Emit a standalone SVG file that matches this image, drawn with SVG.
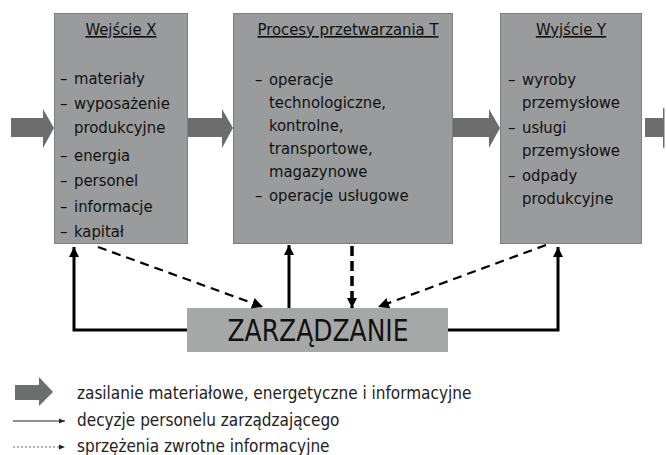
<svg xmlns="http://www.w3.org/2000/svg" width="666" height="455" viewBox="0 0 666 455">
<defs>
<style>
.box{fill:#999b9c;stroke:#7d7f80;stroke-width:1}
.mgmt{fill:#a6a8a8}
.flow{fill:#6c6e6e}
.t{font-family:"DejaVu Sans Condensed","DejaVu Sans",sans-serif;font-size:16.5px;fill:#111}
.title{text-anchor:middle;text-decoration:underline}
.big{font-family:"DejaVu Sans Condensed","DejaVu Sans",sans-serif;font-size:30px;fill:#111;text-anchor:middle}
.leg{font-family:"DejaVu Sans Condensed","DejaVu Sans",sans-serif;font-size:17px;fill:#222}
.solid{fill:none;stroke:#000;stroke-width:3}
.dash{fill:none;stroke:#000;stroke-width:2.2;stroke-dasharray:9 6}
.dashv{fill:none;stroke:#000;stroke-width:3.5;stroke-dasharray:10 5}
</style>
<marker id="ah" viewBox="0 0 10 10" refX="10" refY="5" markerWidth="3.4" markerHeight="3.6" markerUnits="strokeWidth" orient="auto">
<path d="M0,0 L10,5 L0,10 z" fill="#000"/>
</marker>
<marker id="ahd" viewBox="0 0 10 10" refX="10" refY="5" markerWidth="5" markerHeight="5" markerUnits="strokeWidth" orient="auto">
<path d="M0,0 L10,5 L0,10 z" fill="#000"/>
</marker>
<marker id="ahv" viewBox="0 0 10 10" refX="10" refY="5" markerWidth="3" markerHeight="3" markerUnits="strokeWidth" orient="auto">
<path d="M0,0 L10,5 L0,10 z" fill="#000"/>
</marker>
<marker id="ahs" viewBox="0 0 10 10" refX="10" refY="5" markerWidth="6" markerHeight="6" markerUnits="userSpaceOnUse" orient="auto">
<path d="M0,1 L10,5 L0,9 z" fill="#222"/>
</marker>
</defs>
<rect width="666" height="455" fill="#fff"/>

<g id="flows">
<polygon class="flow" points="11,118 43,118 43,109 54,128 43,148 43,137 11,137"/>
<polygon class="flow" points="187,118 222,118 222,109 233,128 222,148 222,137 187,137"/>
<polygon class="flow" points="453,118 489,118 489,109 500,128 489,148 489,137 453,137"/>
<polygon class="flow" points="645,118 663,118 663,108 664.5,108.5 664.5,147.5 663,148 663,137 645,137"/>
</g>

<g id="node-wejscie">
<rect class="box" x="54.5" y="13.5" width="133" height="230"/>
<text class="t title" x="121" y="35">Wejście X</text>
<text class="t" x="60" y="84">–</text><text class="t" x="74" y="84">materiały</text>
<text class="t" x="60" y="109">–</text><text class="t" x="74" y="109">wyposażenie</text>
<text class="t" x="74" y="133">produkcyjne</text>
<text class="t" x="60" y="161">–</text><text class="t" x="74" y="161">energia</text>
<text class="t" x="60" y="186">–</text><text class="t" x="74" y="186">personel</text>
<text class="t" x="60" y="212">–</text><text class="t" x="74" y="212">informacje</text>
<text class="t" x="60" y="237">–</text><text class="t" x="74" y="237">kapitał</text>
</g>

<g id="node-procesy">
<rect class="box" x="233.5" y="13.5" width="219" height="230"/>
<text class="t title" x="348" y="35">Procesy przetwarzania T</text>
<text class="t" x="255" y="85">–</text><text class="t" x="269" y="85">operacje</text>
<text class="t" x="269" y="108">technologiczne,</text>
<text class="t" x="269" y="131">kontrolne,</text>
<text class="t" x="269" y="154">transportowe,</text>
<text class="t" x="269" y="177">magazynowe</text>
<text class="t" x="255" y="201">–</text><text class="t" x="269" y="201">operacje usługowe</text>
</g>

<g id="node-wyjscie">
<rect class="box" x="500.5" y="13.5" width="141" height="230"/>
<text class="t title" x="571" y="35">Wyjście Y</text>
<text class="t" x="508" y="85">–</text><text class="t" x="522" y="85">wyroby</text>
<text class="t" x="522" y="108">przemysłowe</text>
<text class="t" x="508" y="133">–</text><text class="t" x="522" y="133">usługi</text>
<text class="t" x="522" y="156">przemysłowe</text>
<text class="t" x="508" y="181">–</text><text class="t" x="522" y="181">odpady</text>
<text class="t" x="522" y="204">produkcyjne</text>
</g>

<g id="node-zarzadzanie">
<rect class="mgmt" x="187" y="308" width="261" height="44"/>
<text class="big" x="318" y="341" textLength="181" lengthAdjust="spacingAndGlyphs">ZARZĄDZANIE</text>
</g>

<g id="connectors">
<path class="solid" d="M187,330 H74 V247" marker-end="url(#ah)"/>
<path class="solid" d="M448,330 H558 V247" marker-end="url(#ah)"/>
<path class="solid" d="M289,308 V245" marker-end="url(#ah)"/>
<path class="dash" d="M98,247 L263,307" marker-end="url(#ahd)"/>
<path class="dash" d="M546,245 L378,307" marker-end="url(#ahd)"/>
<path class="dashv" d="M352,246 V308" marker-end="url(#ahv)"/>
</g>

<g id="legend">
<polygon class="flow" points="15,385 39,385 39,377 53,392 39,406 39,400 15,400"/>
<text class="leg" x="77" y="399">zasilanie materiałowe, energetyczne i informacyjne</text>
<line x1="13" y1="421" x2="65" y2="421" stroke="#222" stroke-width="1.2" marker-end="url(#ahs)"/>
<text class="leg" x="77" y="426">decyzje personelu zarządzającego</text>
<line x1="13" y1="447" x2="65" y2="447" stroke="#666" stroke-width="1" stroke-dasharray="2 2" marker-end="url(#ahs)"/>
<text class="leg" x="77" y="452">sprzężenia zwrotne informacyjne</text>
</g>
</svg>
